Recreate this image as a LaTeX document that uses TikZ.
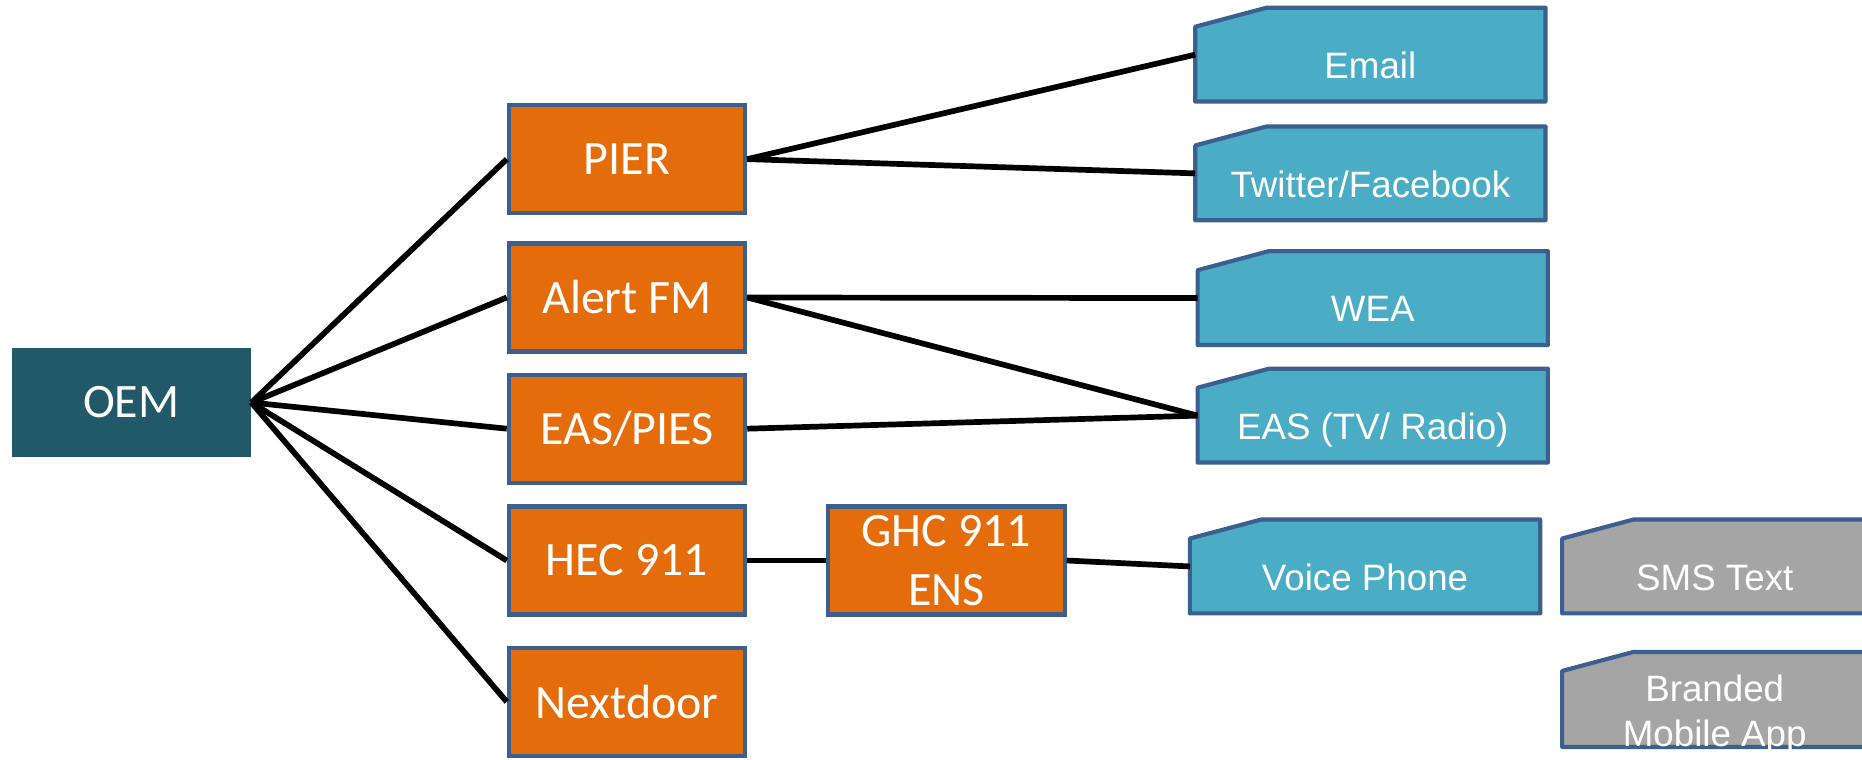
\documentclass[tikz,border=0pt]{standalone}
\usepackage{fontspec}
\setmainfont{Carlito}
\newfontfamily\outletfont{Liberation Sans}
\usetikzlibrary{positioning, backgrounds}

\definecolor{oemteal}{HTML}{215968}
\definecolor{agencyorange}{HTML}{E46C0A}
\definecolor{boxedge}{HTML}{3B5F8E}
\definecolor{outletblue}{HTML}{4BACC6}
\definecolor{plannedgray}{HTML}{A5A5A5}

\tikzset{
  source/.style={fill=oemteal, text=white, minimum width=20.1mm, minimum height=9.2mm, inner sep=0pt, font=\fontsize{11.5}{14.2}\selectfont},
  agency/.style={draw=boxedge, line width=0.35mm, fill=agencyorange, text=white, minimum width=19.9mm, minimum height=9.1mm, inner sep=0pt, align=center, font=\fontsize{11.5}{14.2}\selectfont},
  outlet/.style={text=white, minimum width=29.5mm, minimum height=7.9mm, inner sep=0pt, outer sep=0pt, align=center, text height=4mm, text depth=0pt, font=\outletfont\fontsize{8.8}{10.8}\selectfont},
  snip/.style={draw=boxedge, line width=0.35mm, line join=round},
  link/.style={line width=0.48mm, black}
}

\begin{document}
\begin{tikzpicture}[x=0.1mm, y=-0.1mm]
  \useasboundingbox (0,0) rectangle (1568,640);
  \clip (0,0) rectangle (1568,640);

  % Source
  \node[source] (oem) at (110.5,339) {OEM};

  % Agencies
  \node[agency] (pier) at (528,134) {PIER};
  \node[agency] (alertfm) at (528,250.5) {Alert FM};
  \node[agency] (easpies) at (528,361) {EAS/PIES};
  \node[agency] (hec) at (528,472) {HEC 911};
  \node[agency] (nextdoor) at (528,591) {Nextdoor};
  \node[agency] (ghc) at (797,472) {GHC 911\\ENS};

  % Outlets
  \node[outlet] (email) at (1154,46) {Email};
  \node[outlet] (twitter) at (1154,146) {Twitter/Facebook};
  \node[outlet] (wea) at (1156,251) {WEA};
  \node[outlet] (eastv) at (1156,350) {EAS (TV/ Radio)};
  \node[outlet] (voice) at (1149.5,477) {Voice Phone};
  \node[outlet, minimum width=25.7mm] (sms) at (1444,477) {SMS Text};
  \node[outlet, minimum width=25.7mm, text height=8mm, text depth=0pt] (app) at (1444,589) {Branded\\Mobile App};

  % Snipped outlines behind the outlet text
  \begin{scope}[on background layer]
    \foreach \n/\c in {email/outletblue, twitter/outletblue, wea/outletblue, eastv/outletblue, voice/outletblue, sms/plannedgray, app/plannedgray}
      \filldraw[snip, fill=\c] (\n.south west) -- ([yshift=-1.6mm]\n.north west) -- ([xshift=6mm]\n.north west) -- (\n.north east) -- (\n.south east) -- cycle;
  \end{scope}

  % Links
  \foreach \t in {pier, alertfm, easpies, hec, nextdoor}
    \draw[link] (oem.east) -- (\t.west);
  \foreach \s/\t in {pier/email, pier/twitter, alertfm/wea, alertfm/eastv, easpies/eastv, hec/ghc, ghc/voice}
    \draw[link] (\s.east) -- (\t.west);

\end{tikzpicture}
\end{document}
